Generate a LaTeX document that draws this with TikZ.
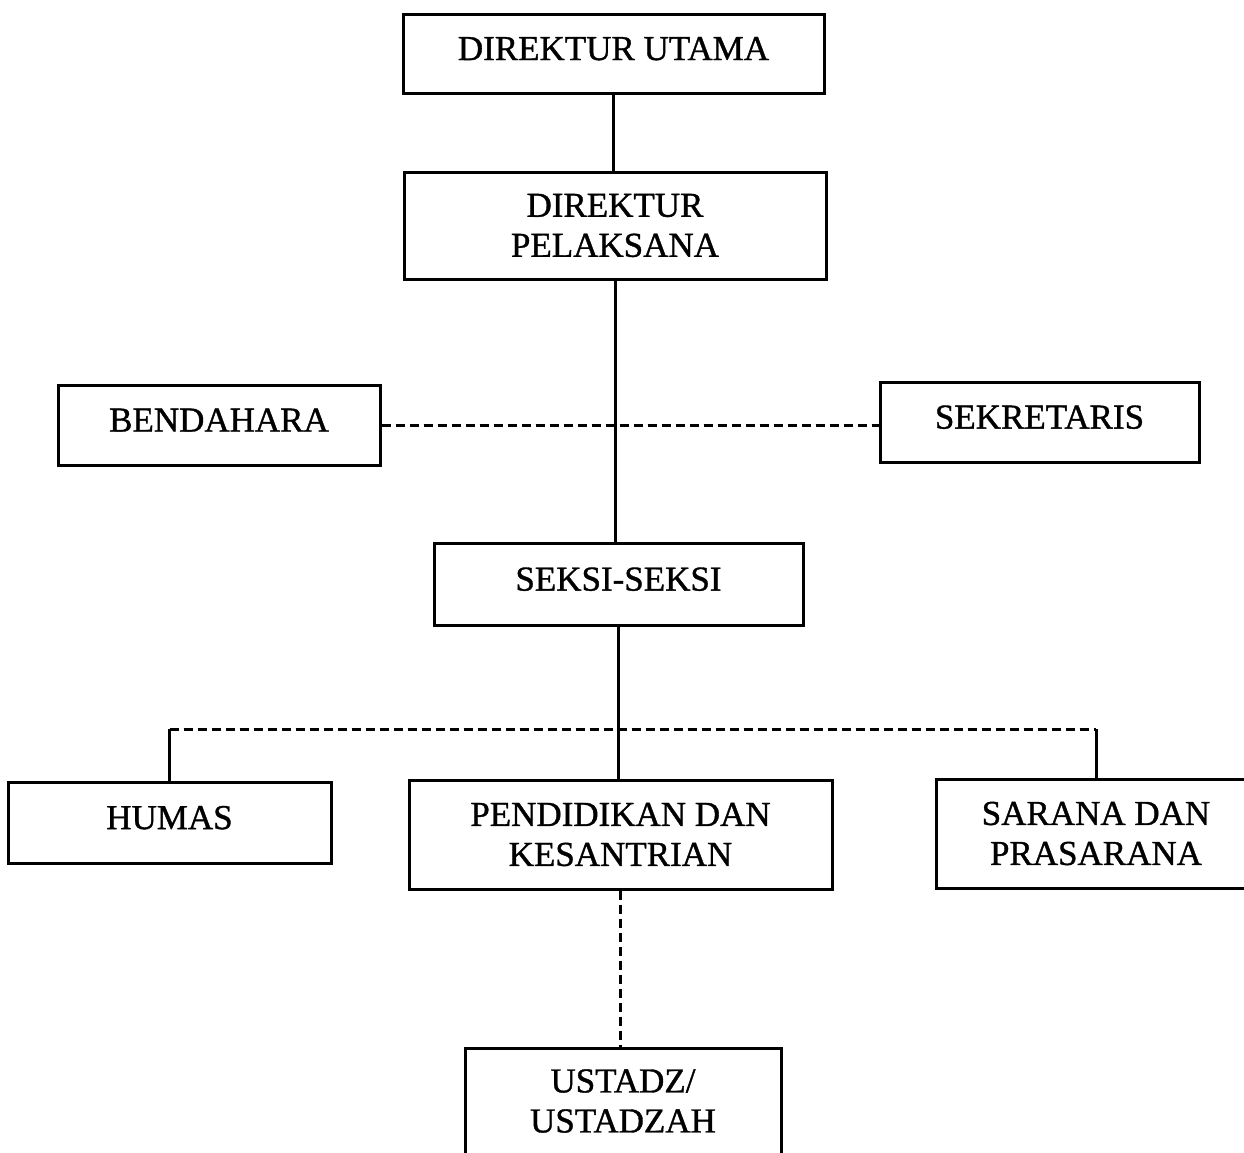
\documentclass[tikz,border=0pt]{standalone}
\usepackage{fontspec}
\setmainfont{Liberation Serif}
\newfontface\orgfont{Liberation Serif}[FakeBold=1]
\usetikzlibrary{calc}

\begin{document}
\begin{tikzpicture}[x=1pt, y=-1pt,
                    line width=3pt,
                    unit/.style={draw, inner sep=0pt, align=center,
                                 font=\orgfont\fontsize{35}{40}\selectfont},
                    oneline/.style={unit, text depth=10pt},
                    dashline/.style={dash pattern=on 9pt off 5pt}
                    ]
    \useasboundingbox (0,0) rectangle (1244,1152);

    \node[oneline, minimum width=421, minimum height=79] (du) at (613.5,53.5) {DIREKTUR UTAMA};
    \node[unit, minimum width=422, minimum height=107] (dp) at (615,225.5) {DIREKTUR\\PELAKSANA};
    \node[oneline, minimum width=322, minimum height=80] (bd) at (219,425) {BENDAHARA};
    \node[oneline, minimum width=319, minimum height=80] (sr) at (1039.5,422) {SEKRETARIS};
    \node[oneline, minimum width=369, minimum height=82] (sk) at (618.5,584) {SEKSI-SEKSI};
    \node[oneline, minimum width=323, minimum height=81] (hm) at (169.5,822.5) {HUMAS};
    \node[unit, minimum width=423, minimum height=109] (pk) at (620.5,834.5) {PENDIDIKAN DAN\\KESANTRIAN};
    \node[unit, minimum width=320, minimum height=109] (sp) at (1096,833.5) {SARANA DAN\\PRASARANA};
    \node[unit, minimum width=316, minimum height=106] (us) at (623,1101) {USTADZ/\\USTADZAH};

    \coordinate (branch) at (618,729);
    \coordinate (hl) at (hm.north |- branch);
    \coordinate (hr) at (sp.north |- branch);

    \draw (du.south) -- (du.south |- dp.north);
    \draw (dp.south) -- (dp.south |- sk.north);
    \draw[dashline] (bd.east) -- (bd.east -| sr.west);
    \draw (sk.south) -- (sk.south |- pk.north);

    \draw[dashline] (hl) -- (hr);
    \draw (hl) -- (hm.north);
    \draw (hr) -- (sp.north);

    \draw[dashline] (pk.south) -- (pk.south |- us.north);
\end{tikzpicture}
\end{document}
